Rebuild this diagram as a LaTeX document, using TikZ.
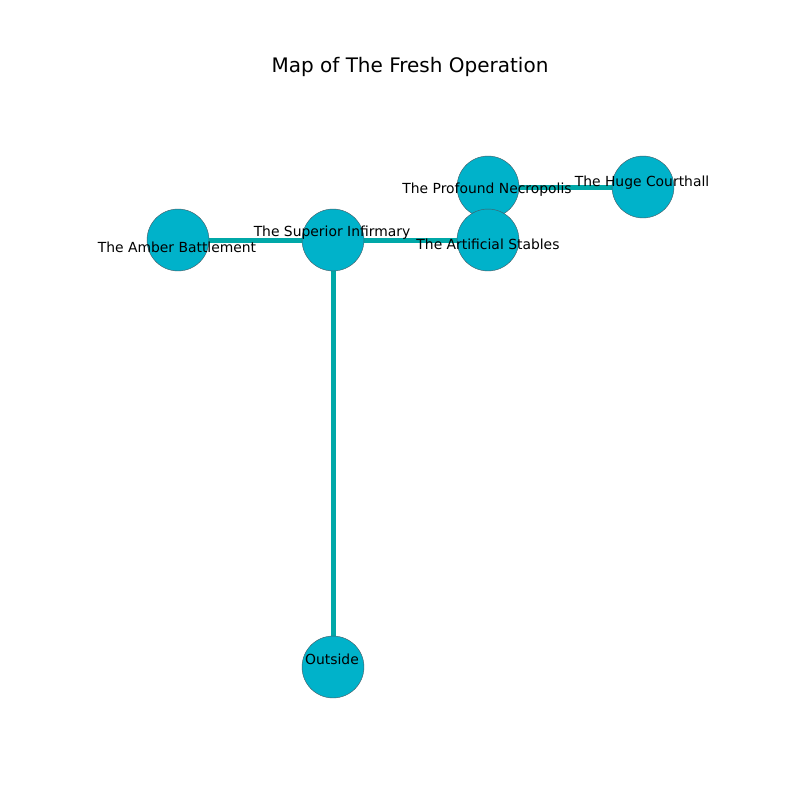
\documentclass[tikz,border=0pt]{standalone}
\usepackage{fontspec}
\setmainfont{DejaVu Sans}
\definecolor{nodefill}{RGB}{0,178,202}
\definecolor{edgecol}{RGB}{0,168,168}
\definecolor{nodeline}{RGB}{70,90,100}
\begin{document}
\begin{tikzpicture}[x=0.72pt,y=-0.72pt,
  place/.style={circle,fill=nodefill,draw=nodeline,line width=0.3pt,minimum size=44.6pt,inner sep=0pt},
  link/.style={draw=edgecol,line width=3.6pt},
  lbl/.style={font=\fontsize{10}{12}\selectfont,inner sep=0pt,anchor=center}]
\useasboundingbox (0,0) rectangle (800,800);
\node[font=\fontsize{14.4}{17}\selectfont] (title) at (410,67) {Map of The Fresh Operation};
\coordinate (cA) at (178,240);
\coordinate (cS) at (333,240);
\coordinate (cT) at (488,240);
\coordinate (cP) at (488,187);
\coordinate (cH) at (643,187);
\coordinate (cO) at (333,667);
\draw[link] (cA) -- (cS);
\draw[link] (cS) -- (cT);
\draw[link] (cS) -- (cO);
\draw[link] (cP) -- (cH);
\node[place] (amber) at (cA) {};
\node[place] (superior) at (cS) {};
\node[place] (profound) at (cP) {};
\node[place] (artificial) at (cT) {};
\node[place] (huge) at (cH) {};
\node[place] (outside) at (cO) {};
\node[lbl] (lamber) at (177,247) {The Amber Battlement};
\node[lbl] (lsuperior) at (332,233) {The Superior Infirmary};
\node[lbl] (lartificial) at (488,244) {The Artificial Stables};
\node[lbl] (lprofound) at (487,190) {The Profound Necropolis};
\node[lbl] (lhuge) at (642,183) {The Huge Courthall};
\node[lbl] (loutside) at (332,659) {Outside};
\end{tikzpicture}
\end{document}
